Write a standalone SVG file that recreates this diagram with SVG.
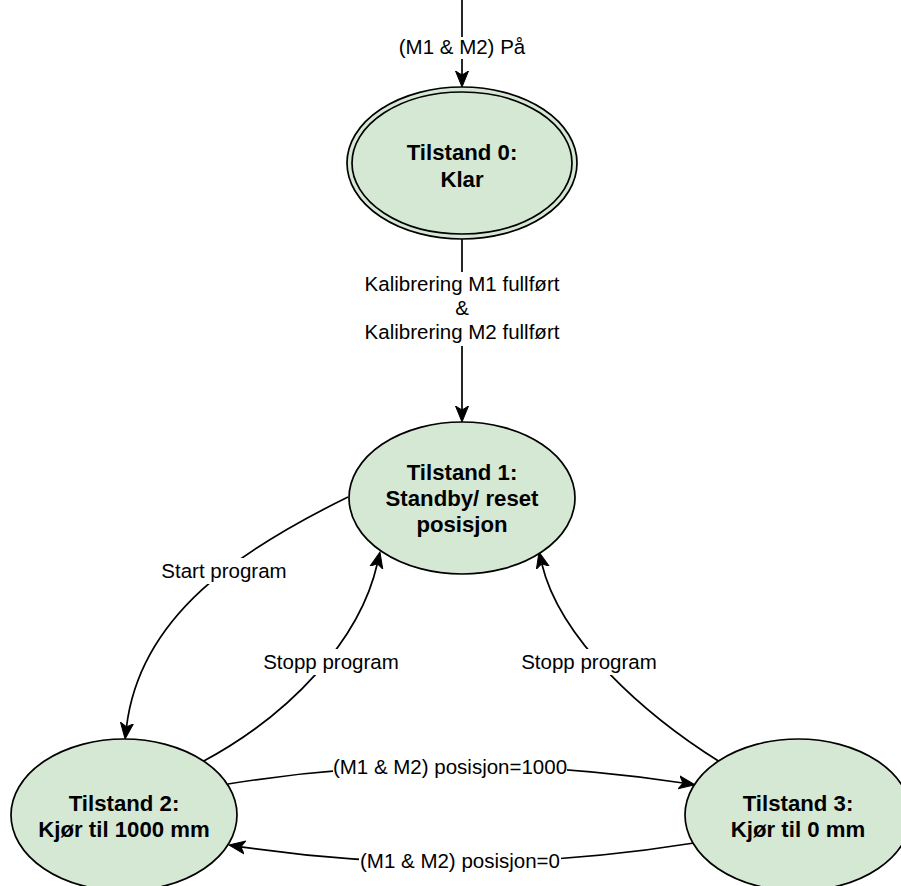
<svg xmlns="http://www.w3.org/2000/svg" width="901" height="886" viewBox="0 0 901 886">
  <style>
    .state { fill: #d5e8d4; stroke: #000; stroke-width: 1.7; }
    .title { font-family: "Liberation Sans", Arial, sans-serif; font-size: 22.2px; font-weight: bold; fill: #000; text-anchor: middle; }
    .edge { fill: none; stroke: #000; stroke-width: 1.7; marker-end: url(#arrow); }
    .lbl-bg { fill: #fff; }
    .lbl { font-family: "Liberation Sans", Arial, sans-serif; font-size: 20.5px; fill: #000; text-anchor: middle; }
  </style>
  <defs>
    <marker id="arrow" markerUnits="userSpaceOnUse" markerWidth="18" markerHeight="16" viewBox="0 -8 18 16" refX="4" refY="0" orient="auto">
      <path d="M16,0 L0,-6.5 L4,0 L0,6.5 Z" fill="#000" stroke="#000" stroke-width="1" stroke-linejoin="miter"/>
    </marker>
  </defs>

  <rect width="901" height="886" fill="#fff"/>

  <!-- transitions -->
  <g id="connectors">
    <!-- entry -->
    <path class="edge" d="M462,0 L462,75"/>
    <rect class="lbl-bg" x="397" y="37" width="130" height="22"/>
    <text class="lbl" x="462" y="54">(M1 &amp; M2) På</text>

    <!-- 0 to 1 -->
    <path class="edge" d="M462,239 L462,410"/>
    <rect class="lbl-bg" x="363" y="272" width="198" height="74"/>
    <text class="lbl" x="462" y="291">Kalibrering M1 fullført</text>
    <text class="lbl" x="462" y="315">&amp;</text>
    <text class="lbl" x="462" y="339">Kalibrering M2 fullført</text>

    <!-- 1 to 2 -->
    <path class="edge" d="M348,497 C240,550 140,615 126.5,727"/>
    <rect class="lbl-bg" x="161" y="558" width="126" height="26"/>
    <text class="lbl" x="224" y="578">Start program</text>

    <!-- 2 to 1 -->
    <path class="edge" d="M202,762 C290,715 360,640 377.3,563.7"/>
    <rect class="lbl-bg" x="263" y="649" width="136" height="26"/>
    <text class="lbl" x="331" y="669">Stopp program</text>

    <!-- 3 to 1 -->
    <path class="edge" d="M720,762 C645,715 560,640 541.8,563.7"/>
    <rect class="lbl-bg" x="521" y="649" width="136" height="26"/>
    <text class="lbl" x="589" y="669">Stopp program</text>

    <!-- 2 to 3 -->
    <path class="edge" d="M228,784 Q450,748 683,783"/>
    <rect class="lbl-bg" x="333" y="754" width="234" height="26"/>
    <text class="lbl" x="450" y="774">(M1 &amp; M2) posisjon=1000</text>

    <!-- 3 to 2 -->
    <path class="edge" d="M694,843 Q463,880 240.9,846.8"/>
    <rect class="lbl-bg" x="359" y="848" width="202" height="26"/>
    <text class="lbl" x="460" y="868">(M1 &amp; M2) posisjon=0</text>
  </g>

  <!-- states -->
  <g id="state0">
    <ellipse class="state" cx="462" cy="163" rx="115" ry="76"/>
    <ellipse class="state" cx="462" cy="163" rx="110" ry="71"/>
    <text class="title" x="462" y="160">Tilstand 0:</text>
    <text class="title" x="462" y="187">Klar</text>
  </g>

  <g id="state1">
    <ellipse class="state" cx="462" cy="498" rx="113" ry="76"/>
    <text class="title" x="462" y="480">Tilstand 1:</text>
    <text class="title" x="462" y="506">Standby/ reset</text>
    <text class="title" x="462" y="532">posisjon</text>
  </g>

  <g id="state2">
    <ellipse class="state" cx="124" cy="815" rx="113" ry="76"/>
    <text class="title" x="124" y="811">Tilstand 2:</text>
    <text class="title" x="124" y="837">Kjør til 1000 mm</text>
  </g>

  <g id="state3">
    <ellipse class="state" cx="798" cy="815" rx="113" ry="76"/>
    <text class="title" x="798" y="811">Tilstand 3:</text>
    <text class="title" x="798" y="837">Kjør til 0 mm</text>
  </g>
</svg>
